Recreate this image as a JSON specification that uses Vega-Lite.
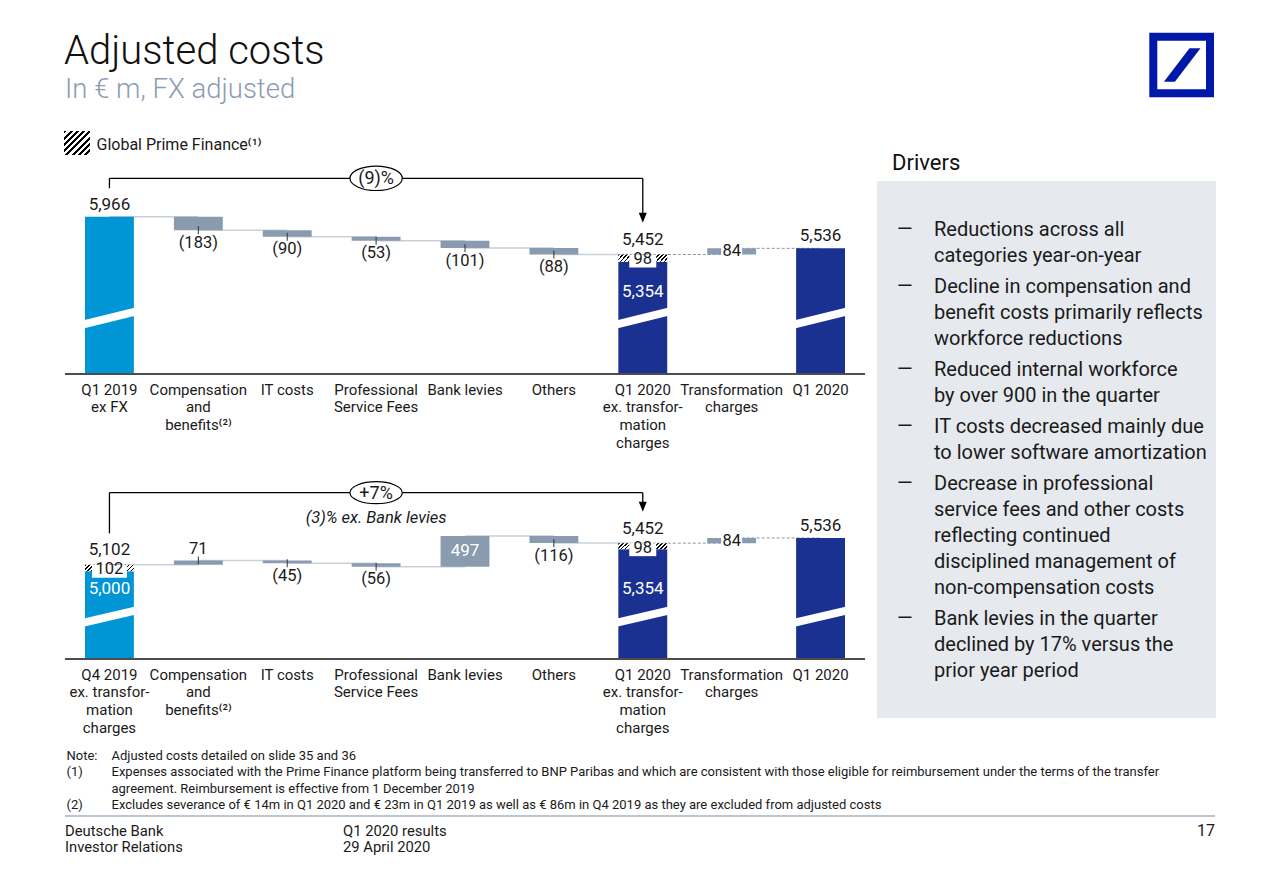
{
  "$schema": "https://vega.github.io/schema/vega-lite/v6.json",
  "width": 1280,
  "height": 886,
  "autosize": {"type": "fit", "contains": "padding"},
  "padding": 0,
  "background": "white",
  "config": {"view": {"stroke": null}, "font": "Roboto", "text": {"font": "Roboto", "color": "#1a1a1a"}},
  "datasets": {
    "topBars": [
      {"step": 1, "cat": "Q1 2019\nex FX", "part": "total", "period": "prior", "value": 5966, "hi": 5966, "next": "Compensation\nand\nbenefits⁽²⁾", "level": 5966, "cmpTo": "Q1 2020\nex. transfor-\nmation\ncharges", "cmpMid": "Professional\nService Fees", "cmpLabel": "(9)%"},
      {"step": 2, "cat": "Compensation\nand\nbenefits⁽²⁾", "part": "dec", "value": -183, "lo": 5783, "hi": 5966, "next": "IT costs", "level": 5783},
      {"step": 3, "cat": "IT costs", "part": "dec", "value": -90, "lo": 5693, "hi": 5783, "next": "Professional\nService Fees", "level": 5693},
      {"step": 4, "cat": "Professional\nService Fees", "part": "dec", "value": -53, "lo": 5640, "hi": 5693, "next": "Bank levies", "level": 5640},
      {"step": 5, "cat": "Bank levies", "part": "dec", "value": -101, "lo": 5539, "hi": 5640, "next": "Others", "level": 5539},
      {"step": 6, "cat": "Others", "part": "dec", "value": -88, "lo": 5451, "hi": 5539, "next": "Q1 2020\nex. transfor-\nmation\ncharges", "level": 5451},
      {"step": 7, "cat": "Q1 2020\nex. transfor-\nmation\ncharges", "part": "core", "period": "current", "value": 5354, "hi": 5354},
      {"step": 7, "cat": "Q1 2020\nex. transfor-\nmation\ncharges", "part": "gpf", "value": 98, "lo": 5354, "hi": 5452, "next": "Transformation\ncharges", "level": 5452},
      {"step": 8, "cat": "Transformation\ncharges", "part": "inc", "value": 84, "lo": 5452, "hi": 5536, "next": "Q1 2020", "level": 5536},
      {"step": 9, "cat": "Q1 2020", "part": "total", "period": "current", "value": 5536, "hi": 5536}
    ],
    "botBars": [
      {"step": 1, "cat": "Q4 2019\nex. transfor-\nmation\ncharges", "part": "core", "period": "prior", "value": 5000, "hi": 5000, "cmpTo": "Q1 2020\nex. transfor-\nmation\ncharges", "cmpMid": "Professional\nService Fees", "cmpLabel": "+7%", "cmpNote": "(3)% ex. Bank levies"},
      {"step": 1, "cat": "Q4 2019\nex. transfor-\nmation\ncharges", "part": "gpf", "value": 102, "lo": 5000, "hi": 5102, "next": "Compensation\nand\nbenefits⁽²⁾", "level": 5102},
      {"step": 2, "cat": "Compensation\nand\nbenefits⁽²⁾", "part": "inc", "value": 71, "lo": 5102, "hi": 5173, "next": "IT costs", "level": 5173},
      {"step": 3, "cat": "IT costs", "part": "dec", "value": -45, "lo": 5128, "hi": 5173, "next": "Professional\nService Fees", "level": 5128},
      {"step": 4, "cat": "Professional\nService Fees", "part": "dec", "value": -56, "lo": 5072, "hi": 5128, "next": "Bank levies", "level": 5072},
      {"step": 5, "cat": "Bank levies", "part": "inc", "value": 497, "lo": 5072, "hi": 5569, "next": "Others", "level": 5569},
      {"step": 6, "cat": "Others", "part": "dec", "value": -116, "lo": 5453, "hi": 5569, "next": "Q1 2020\nex. transfor-\nmation\ncharges", "level": 5453},
      {"step": 7, "cat": "Q1 2020\nex. transfor-\nmation\ncharges", "part": "core", "period": "current", "value": 5354, "hi": 5354},
      {"step": 7, "cat": "Q1 2020\nex. transfor-\nmation\ncharges", "part": "gpf", "value": 98, "lo": 5354, "hi": 5452, "next": "Transformation\ncharges", "level": 5452},
      {"step": 8, "cat": "Transformation\ncharges", "part": "inc", "value": 84, "lo": 5452, "hi": 5536, "next": "Q1 2020", "level": 5536},
      {"step": 9, "cat": "Q1 2020", "part": "total", "period": "current", "value": 5536, "hi": 5536}
    ],
    "drivers": [
      {"bullet": 1, "line": 1, "text": "Reductions across all"},
      {"bullet": 1, "line": 2, "text": "categories year-on-year"},
      {"bullet": 2, "line": 3, "text": "Decline in compensation and"},
      {"bullet": 2, "line": 4, "text": "benefit costs primarily reflects"},
      {"bullet": 2, "line": 5, "text": "workforce reductions"},
      {"bullet": 3, "line": 6, "text": "Reduced internal workforce"},
      {"bullet": 3, "line": 7, "text": "by over 900 in the quarter"},
      {"bullet": 4, "line": 8, "text": "IT costs decreased mainly due"},
      {"bullet": 4, "line": 9, "text": "to lower software amortization"},
      {"bullet": 5, "line": 10, "text": "Decrease in professional"},
      {"bullet": 5, "line": 11, "text": "service fees and other costs"},
      {"bullet": 5, "line": 12, "text": "reflecting continued"},
      {"bullet": 5, "line": 13, "text": "disciplined management of"},
      {"bullet": 5, "line": 14, "text": "non-compensation costs"},
      {"bullet": 6, "line": 15, "text": "Bank levies in the quarter"},
      {"bullet": 6, "line": 16, "text": "declined by 17% versus the"},
      {"bullet": 6, "line": 17, "text": "prior year period"}
    ],
    "notes": [
      {"line": 1, "marker": "Note:", "text": "Adjusted costs detailed on slide 35 and 36"},
      {"line": 2, "marker": "(1)", "text": "Expenses associated with the Prime Finance platform being transferred to BNP Paribas and which are consistent with those eligible for reimbursement under the terms of the transfer"},
      {"line": 3, "marker": "", "text": "agreement. Reimbursement is effective from 1 December 2019"},
      {"line": 4, "marker": "(2)", "text": "Excludes severance of € 14m in Q1 2020 and € 23m in Q1 2019 as well as € 86m in Q4 2019 as they are excluded from adjusted costs"}
    ],
    "footer": [
      {"col": "A", "line": 1, "text": "Deutsche Bank"},
      {"col": "A", "line": 2, "text": "Investor Relations"},
      {"col": "B", "line": 1, "text": "Q1 2020 results"},
      {"col": "B", "line": 2, "text": "29 April 2020"}
    ]
  },
  "resolve": {"scale": {"x": "independent", "y": "independent"}},
  "layer": [
    {
      "data": {"values": [{}]},
      "layer": [
        {"mark": {"type": "rect", "color": "#e6e9ee"}, "encoding": {"x": {"datum": 877, "type": "quantitative", "axis": null, "scale": {"domain": [0, 1280], "range": [0, 1280], "nice": false, "zero": false}}, "x2": {"datum": 1216}, "y": {"datum": 181, "type": "quantitative", "axis": null, "scale": {"domain": [0, 886], "range": [0, 886], "nice": false, "zero": false}}, "y2": {"datum": 718}}},
        {"mark": {"type": "rect", "fillOpacity": 0, "stroke": "#0018a8", "strokeWidth": 8}, "encoding": {"x": {"datum": 1153.3, "type": "quantitative", "axis": null}, "x2": {"datum": 1210}, "y": {"datum": 36.7, "type": "quantitative", "axis": null}, "y2": {"datum": 93.3}}},
        {"mark": {"type": "point", "filled": true, "color": "#0018a8", "opacity": 1, "strokeWidth": 0, "shape": "M0.406,-0.928L1.017,-0.928L-0.406,0.928L-1.017,0.928Z", "size": 1296}, "encoding": {"x": {"datum": 1182.2, "type": "quantitative", "axis": null}, "y": {"datum": 65, "type": "quantitative", "axis": null}}},
        {"mark": {"type": "rect", "fill": {"gradient": "linear", "x1": 0, "y1": 0, "x2": 1.038, "y2": 0.958, "stops": [
          {"offset": 0, "color": "#000"}, {"offset": 0.06, "color": "#000"}, {"offset": 0.06, "color": "#fff"}, {"offset": 0.125, "color": "#fff"},
          {"offset": 0.125, "color": "#000"}, {"offset": 0.185, "color": "#000"}, {"offset": 0.185, "color": "#fff"}, {"offset": 0.25, "color": "#fff"},
          {"offset": 0.25, "color": "#000"}, {"offset": 0.31, "color": "#000"}, {"offset": 0.31, "color": "#fff"}, {"offset": 0.375, "color": "#fff"},
          {"offset": 0.375, "color": "#000"}, {"offset": 0.435, "color": "#000"}, {"offset": 0.435, "color": "#fff"}, {"offset": 0.5, "color": "#fff"},
          {"offset": 0.5, "color": "#000"}, {"offset": 0.56, "color": "#000"}, {"offset": 0.56, "color": "#fff"}, {"offset": 0.625, "color": "#fff"},
          {"offset": 0.625, "color": "#000"}, {"offset": 0.685, "color": "#000"}, {"offset": 0.685, "color": "#fff"}, {"offset": 0.75, "color": "#fff"},
          {"offset": 0.75, "color": "#000"}, {"offset": 0.81, "color": "#000"}, {"offset": 0.81, "color": "#fff"}, {"offset": 0.875, "color": "#fff"},
          {"offset": 0.875, "color": "#000"}, {"offset": 0.935, "color": "#000"}, {"offset": 0.935, "color": "#fff"}, {"offset": 1, "color": "#fff"}]}},
          "encoding": {"x": {"datum": 64, "type": "quantitative", "axis": null}, "x2": {"datum": 90}, "y": {"datum": 131, "type": "quantitative", "axis": null}, "y2": {"datum": 155}}},
        {"mark": {"type": "rule", "color": "#a5b3c7", "strokeWidth": 1.5}, "encoding": {"x": {"datum": 65, "type": "quantitative", "axis": null}, "x2": {"datum": 1215}, "y": {"datum": 816, "type": "quantitative", "axis": null}}},
        {"mark": {"type": "text", "text": "Adjusted costs", "align": "left", "baseline": "alphabetic", "fontSize": 40, "fontWeight": 300, "color": "#111111"}, "encoding": {"x": {"datum": 64, "type": "quantitative", "axis": null}, "y": {"datum": 63.5, "type": "quantitative", "axis": null}}},
        {"mark": {"type": "text", "text": "In € m, FX adjusted", "align": "left", "baseline": "alphabetic", "fontSize": 27.5, "fontWeight": 300, "color": "#8c9bb4"}, "encoding": {"x": {"datum": 65, "type": "quantitative", "axis": null}, "y": {"datum": 98, "type": "quantitative", "axis": null}}},
        {"mark": {"type": "text", "text": "Global Prime Finance⁽¹⁾", "align": "left", "baseline": "alphabetic", "fontSize": 16, "color": "#1a1a1a"}, "encoding": {"x": {"datum": 96.5, "type": "quantitative", "axis": null}, "y": {"datum": 150, "type": "quantitative", "axis": null}}},
        {"mark": {"type": "text", "text": "Drivers", "align": "left", "baseline": "alphabetic", "fontSize": 22, "color": "#111111"}, "encoding": {"x": {"datum": 892, "type": "quantitative", "axis": null}, "y": {"datum": 170, "type": "quantitative", "axis": null}}},
        {"mark": {"type": "text", "text": "17", "align": "right", "baseline": "alphabetic", "fontSize": 16, "color": "#1a1a1a"}, "encoding": {"x": {"datum": 1215, "type": "quantitative", "axis": null}, "y": {"datum": 836, "type": "quantitative", "axis": null}}}
      ]
    },
    {
      "data": {"name": "drivers"},
      "encoding": {
        "y": {"field": "line", "type": "ordinal", "axis": null, "scale": {"type": "band", "domain": [1, 2, 3, 4, 5, 6, 7, 8, 9, 10, 11, 12, 13, 14, 15, 16, 17], "range": [229.6, 671.6], "paddingInner": 0, "paddingOuter": 0}},
        "yOffset": {"field": "bullet", "type": "ordinal", "scale": {"type": "point", "domain": [1, 2, 3, 4, 5, 6], "range": [0, 25], "padding": 0}}
      },
      "layer": [
        {"mark": {"type": "text", "align": "left", "baseline": "middle", "fontSize": 20}, "encoding": {"x": {"datum": "body", "type": "nominal", "axis": null, "scale": {"type": "point", "domain": ["dash", "body"], "range": [897, 934], "padding": 0}}, "text": {"field": "text", "type": "nominal"}}},
        {"transform": [{"aggregate": [{"op": "min", "field": "line", "as": "line"}], "groupby": ["bullet"]}], "mark": {"type": "text", "align": "left", "baseline": "middle", "fontSize": 20, "text": "—"}, "encoding": {"x": {"datum": "dash", "type": "nominal", "axis": null}}}
      ]
    },
    {
      "data": {"name": "notes"},
      "encoding": {"y": {"field": "line", "type": "ordinal", "axis": null, "scale": {"type": "point", "domain": [1, 2, 3, 4], "range": [755.8, 805.3], "padding": 0}}},
      "layer": [
        {"transform": [{"filter": "datum.marker !== ''"}], "mark": {"type": "text", "align": "left", "baseline": "middle", "fontSize": 13}, "encoding": {"x": {"datum": "marker", "type": "nominal", "axis": null, "scale": {"type": "point", "domain": ["marker", "body"], "range": [66.5, 111.5], "padding": 0}}, "text": {"field": "marker", "type": "nominal"}}},
        {"mark": {"type": "text", "align": "left", "baseline": "middle", "fontSize": 13}, "encoding": {"x": {"datum": "body", "type": "nominal", "axis": null}, "text": {"field": "text", "type": "nominal"}}}
      ]
    },
    {
      "data": {"name": "footer"},
      "mark": {"type": "text", "align": "left", "baseline": "middle", "fontSize": 14.8},
      "encoding": {
        "x": {"field": "col", "type": "nominal", "axis": null, "scale": {"type": "point", "domain": ["A", "B"], "range": [65, 343], "padding": 0}},
        "y": {"field": "line", "type": "ordinal", "axis": null, "scale": {"type": "point", "domain": [1, 2], "range": [831.7, 848.3], "padding": 0}},
        "text": {"field": "text", "type": "nominal"}
      }
    },
    {
      "data": {"name": "topBars"},
      "encoding": {
        "x": {"field": "cat", "type": "nominal", "axis": null, "scale": {"type": "band", "domain": ["Q1 2019\nex FX", "Compensation\nand\nbenefits⁽²⁾", "IT costs", "Professional\nService Fees", "Bank levies", "Others", "Q1 2020\nex. transfor-\nmation\ncharges", "Transformation\ncharges", "Q1 2020"], "range": [65, 865], "paddingInner": 0.45, "paddingOuter": 0.225}},
        "y": {"field": "hi", "type": "quantitative", "axis": null, "scale": {"domain": [3826, 6738], "range": [374, 160], "zero": false, "nice": false}}
      },
      "layer": [
        {"transform": [{"filter": "isValid(datum.next)"}], "mark": {"type": "rule"}, "encoding": {"x2": {"field": "next"}, "y": {"field": "level", "type": "quantitative", "axis": null}, "color": {"condition": {"test": "datum.step >= 7", "value": "#8c96a3"}, "value": "#c9d0da"}, "strokeWidth": {"condition": {"test": "datum.step >= 7", "value": 1}, "value": 1.5}, "strokeDash": {"condition": {"test": "datum.step >= 7", "value": [3, 2]}, "value": [1, 0]}}},
        {"transform": [{"filter": "datum.part === 'total' || datum.part === 'core'"}], "mark": {"type": "bar"}, "encoding": {"y2": {"datum": 3826}, "color": {"field": "period", "type": "nominal", "legend": null, "scale": {"domain": ["prior", "current"], "range": ["#0096d6", "#1b3192"]}}}},
        {"transform": [{"filter": "datum.part === 'dec' || datum.part === 'inc'"}], "mark": {"type": "bar", "color": "#8a9bb0"}, "encoding": {"y2": {"field": "lo"}}},
        {"transform": [{"filter": "datum.part === 'gpf'"}], "mark": {"type": "bar", "fill": {"gradient": "linear", "x1": 0, "y1": 0, "x2": 1.12, "y2": 0.155, "stops": [
          {"offset": 0, "color": "#000"}, {"offset": 0.03, "color": "#000"}, {"offset": 0.03, "color": "#fff"}, {"offset": 0.0714, "color": "#fff"},
          {"offset": 0.0714, "color": "#000"}, {"offset": 0.1014, "color": "#000"}, {"offset": 0.1014, "color": "#fff"}, {"offset": 0.1429, "color": "#fff"},
          {"offset": 0.1429, "color": "#000"}, {"offset": 0.1729, "color": "#000"}, {"offset": 0.1729, "color": "#fff"}, {"offset": 0.2143, "color": "#fff"},
          {"offset": 0.2143, "color": "#000"}, {"offset": 0.2443, "color": "#000"}, {"offset": 0.2443, "color": "#fff"}, {"offset": 0.2857, "color": "#fff"},
          {"offset": 0.2857, "color": "#000"}, {"offset": 0.3157, "color": "#000"}, {"offset": 0.3157, "color": "#fff"}, {"offset": 0.3571, "color": "#fff"},
          {"offset": 0.3571, "color": "#000"}, {"offset": 0.3871, "color": "#000"}, {"offset": 0.3871, "color": "#fff"}, {"offset": 0.4286, "color": "#fff"},
          {"offset": 0.4286, "color": "#000"}, {"offset": 0.4586, "color": "#000"}, {"offset": 0.4586, "color": "#fff"}, {"offset": 0.5, "color": "#fff"},
          {"offset": 0.5, "color": "#000"}, {"offset": 0.53, "color": "#000"}, {"offset": 0.53, "color": "#fff"}, {"offset": 0.5714, "color": "#fff"},
          {"offset": 0.5714, "color": "#000"}, {"offset": 0.6014, "color": "#000"}, {"offset": 0.6014, "color": "#fff"}, {"offset": 0.6429, "color": "#fff"},
          {"offset": 0.6429, "color": "#000"}, {"offset": 0.6729, "color": "#000"}, {"offset": 0.6729, "color": "#fff"}, {"offset": 0.7143, "color": "#fff"},
          {"offset": 0.7143, "color": "#000"}, {"offset": 0.7443, "color": "#000"}, {"offset": 0.7443, "color": "#fff"}, {"offset": 0.7857, "color": "#fff"},
          {"offset": 0.7857, "color": "#000"}, {"offset": 0.8157, "color": "#000"}, {"offset": 0.8157, "color": "#fff"}, {"offset": 0.8571, "color": "#fff"},
          {"offset": 0.8571, "color": "#000"}, {"offset": 0.8871, "color": "#000"}, {"offset": 0.8871, "color": "#fff"}, {"offset": 0.9286, "color": "#fff"},
          {"offset": 0.9286, "color": "#000"}, {"offset": 0.9586, "color": "#000"}, {"offset": 0.9586, "color": "#fff"}, {"offset": 1, "color": "#fff"}]}},
          "encoding": {"y2": {"field": "lo"}}},
        {"transform": [{"filter": "datum.part === 'total' || datum.part === 'core'"}], "mark": {"type": "rule", "color": "#ffffff", "strokeWidth": 8, "strokeCap": "butt"}, "encoding": {"x": {"field": "cat", "type": "nominal", "axis": null, "bandPosition": -0.05}, "x2": {"field": "cat", "bandPosition": 1.05}, "y": {"datum": 4499, "axis": null}, "y2": {"datum": 4677}}},
        {"transform": [{"filter": "datum.step === 9"}], "mark": {"type": "rule", "color": "#4d4d4d", "strokeWidth": 2}, "encoding": {"x": {"datum": "Q1 2019\nex FX", "type": "nominal", "axis": null, "bandPosition": -0.41}, "x2": {"datum": "Q1 2020", "bandPosition": 1.41}, "y": {"datum": 3826, "axis": null}}},
        {"transform": [{"filter": "datum.part === 'dec'"}], "mark": {"type": "rule", "color": "#333333", "strokeWidth": 1, "yOffset": -4, "y2Offset": 4}, "encoding": {"y": {"field": "lo", "type": "quantitative", "axis": null}, "y2": {"field": "lo"}}},
        {"transform": [{"filter": "datum.part === 'gpf'"}], "mark": {"type": "point", "filled": true, "color": "#ffffff", "opacity": 1, "strokeWidth": 0, "yOffset": 6.5}, "encoding": {"shape": {"condition": {"test": "datum.value >= 100", "value": "M-1,-0.37H1V0.37H-1Z"}, "value": "M-1,-0.48H1V0.48H-1Z"}, "size": {"condition": {"test": "datum.value >= 100", "value": 1225}, "value": 729}}},
        {"transform": [{"filter": "datum.step === 8"}], "mark": {"type": "point", "filled": true, "color": "#ffffff", "opacity": 1, "strokeWidth": 0, "shape": "M-1,-0.6H1V0.6H-1Z", "size": 441, "yOffset": 3}},
        {"transform": [{"filter": "datum.part === 'total'"}], "mark": {"type": "text", "baseline": "alphabetic", "dy": -7, "fontSize": 17}, "encoding": {"text": {"field": "value", "type": "quantitative", "format": ",.0f"}}},
        {"transform": [{"filter": "datum.part === 'gpf'"}], "mark": {"type": "text", "baseline": "alphabetic", "dy": -10, "fontSize": 17}, "encoding": {"text": {"field": "hi", "type": "quantitative", "format": ",.0f"}}},
        {"transform": [{"filter": "datum.part === 'gpf'"}], "mark": {"type": "text", "baseline": "middle", "dy": 4.5, "fontSize": 16.5}, "encoding": {"text": {"field": "value", "type": "quantitative", "format": ",.0f"}}},
        {"transform": [{"filter": "datum.part === 'core'"}], "mark": {"type": "text", "baseline": "middle", "fontSize": 17, "color": "#ffffff"}, "encoding": {"y": {"datum": 4946, "axis": null}, "text": {"field": "value", "type": "quantitative", "format": ",.0f"}}},
        {"transform": [{"filter": "datum.part === 'dec'"}], "mark": {"type": "text", "baseline": "alphabetic", "dy": 17.5, "fontSize": 16.5}, "encoding": {"y": {"field": "lo", "type": "quantitative", "axis": null}, "text": {"field": "value", "type": "quantitative", "format": "(,.0f"}}},
        {"transform": [{"filter": "datum.step === 8"}], "mark": {"type": "text", "baseline": "middle", "dy": 3, "fontSize": 16.5}, "encoding": {"text": {"field": "value", "type": "quantitative", "format": ",.0f"}}},
        {"transform": [{"filter": "datum.part !== 'gpf'"}], "mark": {"type": "text", "baseline": "alphabetic", "dy": 20.5, "fontSize": 15, "lineBreak": "\n", "lineHeight": 17.8}, "encoding": {"y": {"datum": 3826, "axis": null}, "text": {"field": "cat", "type": "nominal"}}},
        {"transform": [{"filter": "isValid(datum.cmpLabel)"}], "mark": {"type": "rule", "color": "#000000", "strokeWidth": 1.3}, "encoding": {"y": {"datum": 6489, "axis": null}, "y2": {"datum": 6353}}},
        {"transform": [{"filter": "isValid(datum.cmpLabel)"}], "mark": {"type": "rule", "color": "#000000", "strokeWidth": 1.3}, "encoding": {"x2": {"field": "cmpTo"}, "y": {"datum": 6489, "axis": null}}},
        {"transform": [{"filter": "isValid(datum.cmpLabel)"}], "mark": {"type": "rule", "color": "#000000", "strokeWidth": 1.3}, "encoding": {"x": {"field": "cmpTo", "type": "nominal", "axis": null}, "y": {"datum": 6489, "axis": null}, "y2": {"datum": 5990}}},
        {"transform": [{"filter": "isValid(datum.cmpLabel)"}], "mark": {"type": "point", "filled": true, "color": "#000000", "opacity": 1, "strokeWidth": 0, "shape": "M-0.8,-1L0.8,-1L0,1Z", "size": 100}, "encoding": {"x": {"field": "cmpTo", "type": "nominal", "axis": null}, "y": {"datum": 5951, "axis": null}}},
        {"transform": [{"filter": "isValid(datum.cmpLabel)"}], "mark": {"type": "point", "filled": true, "fill": "#ffffff", "stroke": "#000000", "strokeWidth": 1.2, "opacity": 1, "shape": "M-1,0A1,0.467,0,1,1,1,0A1,0.467,0,1,1,-1,0Z", "size": 2735}, "encoding": {"x": {"field": "cmpMid", "type": "nominal", "axis": null}, "y": {"datum": 6489, "axis": null}}},
        {"transform": [{"filter": "isValid(datum.cmpLabel)"}], "mark": {"type": "text", "baseline": "middle", "fontSize": 18, "dy": 1}, "encoding": {"x": {"field": "cmpMid", "type": "nominal", "axis": null}, "y": {"datum": 6489, "axis": null}, "text": {"field": "cmpLabel", "type": "nominal"}}}
      ]
    },
    {
      "data": {"name": "botBars"},
      "encoding": {
        "x": {"field": "cat", "type": "nominal", "axis": null, "scale": {"type": "band", "domain": ["Q4 2019\nex. transfor-\nmation\ncharges", "Compensation\nand\nbenefits⁽²⁾", "IT costs", "Professional\nService Fees", "Bank levies", "Others", "Q1 2020\nex. transfor-\nmation\ncharges", "Transformation\ncharges", "Q1 2020"], "range": [65, 865], "paddingInner": 0.45, "paddingOuter": 0.225}},
        "y": {"field": "hi", "type": "quantitative", "axis": null, "scale": {"domain": [3584, 6632], "range": [659, 470], "zero": false, "nice": false}}
      },
      "layer": [
        {"transform": [{"filter": "isValid(datum.next)"}], "mark": {"type": "rule"}, "encoding": {"x2": {"field": "next"}, "y": {"field": "level", "type": "quantitative", "axis": null}, "color": {"condition": {"test": "datum.step >= 7", "value": "#8c96a3"}, "value": "#c9d0da"}, "strokeWidth": {"condition": {"test": "datum.step >= 7", "value": 1}, "value": 1.5}, "strokeDash": {"condition": {"test": "datum.step >= 7", "value": [3, 2]}, "value": [1, 0]}}},
        {"transform": [{"filter": "datum.part === 'total' || datum.part === 'core'"}], "mark": {"type": "bar"}, "encoding": {"y2": {"datum": 3584}, "color": {"field": "period", "type": "nominal", "legend": null, "scale": {"domain": ["prior", "current"], "range": ["#0096d6", "#1b3192"]}}}},
        {"transform": [{"filter": "datum.part === 'dec' || datum.part === 'inc'"}], "mark": {"type": "bar", "color": "#8a9bb0"}, "encoding": {"y2": {"field": "lo"}}},
        {"transform": [{"filter": "datum.part === 'gpf'"}], "mark": {"type": "bar", "fill": {"gradient": "linear", "x1": 0, "y1": 0, "x2": 1.11, "y2": 0.14, "stops": [
          {"offset": 0, "color": "#000"}, {"offset": 0.03, "color": "#000"}, {"offset": 0.03, "color": "#fff"}, {"offset": 0.0714, "color": "#fff"},
          {"offset": 0.0714, "color": "#000"}, {"offset": 0.1014, "color": "#000"}, {"offset": 0.1014, "color": "#fff"}, {"offset": 0.1429, "color": "#fff"},
          {"offset": 0.1429, "color": "#000"}, {"offset": 0.1729, "color": "#000"}, {"offset": 0.1729, "color": "#fff"}, {"offset": 0.2143, "color": "#fff"},
          {"offset": 0.2143, "color": "#000"}, {"offset": 0.2443, "color": "#000"}, {"offset": 0.2443, "color": "#fff"}, {"offset": 0.2857, "color": "#fff"},
          {"offset": 0.2857, "color": "#000"}, {"offset": 0.3157, "color": "#000"}, {"offset": 0.3157, "color": "#fff"}, {"offset": 0.3571, "color": "#fff"},
          {"offset": 0.3571, "color": "#000"}, {"offset": 0.3871, "color": "#000"}, {"offset": 0.3871, "color": "#fff"}, {"offset": 0.4286, "color": "#fff"},
          {"offset": 0.4286, "color": "#000"}, {"offset": 0.4586, "color": "#000"}, {"offset": 0.4586, "color": "#fff"}, {"offset": 0.5, "color": "#fff"},
          {"offset": 0.5, "color": "#000"}, {"offset": 0.53, "color": "#000"}, {"offset": 0.53, "color": "#fff"}, {"offset": 0.5714, "color": "#fff"},
          {"offset": 0.5714, "color": "#000"}, {"offset": 0.6014, "color": "#000"}, {"offset": 0.6014, "color": "#fff"}, {"offset": 0.6429, "color": "#fff"},
          {"offset": 0.6429, "color": "#000"}, {"offset": 0.6729, "color": "#000"}, {"offset": 0.6729, "color": "#fff"}, {"offset": 0.7143, "color": "#fff"},
          {"offset": 0.7143, "color": "#000"}, {"offset": 0.7443, "color": "#000"}, {"offset": 0.7443, "color": "#fff"}, {"offset": 0.7857, "color": "#fff"},
          {"offset": 0.7857, "color": "#000"}, {"offset": 0.8157, "color": "#000"}, {"offset": 0.8157, "color": "#fff"}, {"offset": 0.8571, "color": "#fff"},
          {"offset": 0.8571, "color": "#000"}, {"offset": 0.8871, "color": "#000"}, {"offset": 0.8871, "color": "#fff"}, {"offset": 0.9286, "color": "#fff"},
          {"offset": 0.9286, "color": "#000"}, {"offset": 0.9586, "color": "#000"}, {"offset": 0.9586, "color": "#fff"}, {"offset": 1, "color": "#fff"}]}},
          "encoding": {"y2": {"field": "lo"}}},
        {"transform": [{"filter": "datum.part === 'total' || datum.part === 'core'"}], "mark": {"type": "rule", "color": "#ffffff", "strokeWidth": 8, "strokeCap": "butt"}, "encoding": {"x": {"field": "cat", "type": "nominal", "axis": null, "bandPosition": -0.05}, "x2": {"field": "cat", "bandPosition": 1.05}, "y": {"datum": 4165, "axis": null}, "y2": {"datum": 4369}}},
        {"transform": [{"filter": "datum.step === 9"}], "mark": {"type": "rule", "color": "#4d4d4d", "strokeWidth": 2}, "encoding": {"x": {"datum": "Q4 2019\nex. transfor-\nmation\ncharges", "type": "nominal", "axis": null, "bandPosition": -0.41}, "x2": {"datum": "Q1 2020", "bandPosition": 1.41}, "y": {"datum": 3584, "axis": null}}},
        {"transform": [{"filter": "datum.part === 'dec'"}], "mark": {"type": "rule", "color": "#333333", "strokeWidth": 1, "yOffset": -4, "y2Offset": 4}, "encoding": {"y": {"field": "lo", "type": "quantitative", "axis": null}, "y2": {"field": "lo"}}},
        {"transform": [{"filter": "datum.part === 'inc' && datum.value < 300 && datum.step !== 8"}], "mark": {"type": "rule", "color": "#333333", "strokeWidth": 1, "yOffset": -4, "y2Offset": 4}, "encoding": {"y": {"field": "hi", "type": "quantitative", "axis": null}, "y2": {"field": "hi"}}},
        {"transform": [{"filter": "datum.part === 'gpf'"}], "mark": {"type": "point", "filled": true, "color": "#ffffff", "opacity": 1, "strokeWidth": 0, "yOffset": 6.5}, "encoding": {"shape": {"condition": {"test": "datum.value >= 100", "value": "M-1,-0.37H1V0.37H-1Z"}, "value": "M-1,-0.48H1V0.48H-1Z"}, "size": {"condition": {"test": "datum.value >= 100", "value": 1225}, "value": 729}}},
        {"transform": [{"filter": "datum.step === 8"}], "mark": {"type": "point", "filled": true, "color": "#ffffff", "opacity": 1, "strokeWidth": 0, "shape": "M-1,-0.6H1V0.6H-1Z", "size": 441, "yOffset": 3}},
        {"transform": [{"filter": "datum.part === 'total'"}], "mark": {"type": "text", "baseline": "alphabetic", "dy": -7, "fontSize": 17}, "encoding": {"text": {"field": "value", "type": "quantitative", "format": ",.0f"}}},
        {"transform": [{"filter": "datum.part === 'gpf'"}], "mark": {"type": "text", "baseline": "alphabetic", "dy": -9.5, "fontSize": 17}, "encoding": {"text": {"field": "hi", "type": "quantitative", "format": ",.0f"}}},
        {"transform": [{"filter": "datum.part === 'gpf'"}], "mark": {"type": "text", "baseline": "middle", "dy": 4.5, "fontSize": 16.5}, "encoding": {"text": {"field": "value", "type": "quantitative", "format": ",.0f"}}},
        {"transform": [{"filter": "datum.part === 'core'"}], "mark": {"type": "text", "baseline": "middle", "fontSize": 17, "color": "#ffffff"}, "encoding": {"y": {"datum": 4713, "axis": null}, "text": {"field": "value", "type": "quantitative", "format": ",.0f"}}},
        {"transform": [{"filter": "datum.part === 'dec'"}], "mark": {"type": "text", "baseline": "alphabetic", "dy": 17.5, "fontSize": 16.5}, "encoding": {"y": {"field": "lo", "type": "quantitative", "axis": null}, "text": {"field": "value", "type": "quantitative", "format": "(,.0f"}}},
        {"transform": [{"filter": "datum.part === 'inc' && datum.value < 300 && datum.step !== 8"}], "mark": {"type": "text", "baseline": "alphabetic", "dy": -6, "fontSize": 16.5}, "encoding": {"text": {"field": "value", "type": "quantitative", "format": ",.0f"}}},
        {"transform": [{"filter": "datum.part === 'inc' && datum.value >= 300"}], "mark": {"type": "text", "baseline": "middle", "dy": 15.5, "fontSize": 17, "color": "#ffffff"}, "encoding": {"text": {"field": "value", "type": "quantitative", "format": ",.0f"}}},
        {"transform": [{"filter": "datum.step === 8"}], "mark": {"type": "text", "baseline": "middle", "dy": 3, "fontSize": 16.5}, "encoding": {"text": {"field": "value", "type": "quantitative", "format": ",.0f"}}},
        {"transform": [{"filter": "datum.part !== 'gpf'"}], "mark": {"type": "text", "baseline": "alphabetic", "dy": 20.5, "fontSize": 15, "lineBreak": "\n", "lineHeight": 17.8}, "encoding": {"y": {"datum": 3584, "axis": null}, "text": {"field": "cat", "type": "nominal"}}},
        {"transform": [{"filter": "isValid(datum.cmpLabel)"}], "mark": {"type": "rule", "color": "#000000", "strokeWidth": 1.3}, "encoding": {"y": {"datum": 6266, "axis": null}, "y2": {"datum": 5611}}},
        {"transform": [{"filter": "isValid(datum.cmpLabel)"}], "mark": {"type": "rule", "color": "#000000", "strokeWidth": 1.3}, "encoding": {"x2": {"field": "cmpTo"}, "y": {"datum": 6266, "axis": null}}},
        {"transform": [{"filter": "isValid(datum.cmpLabel)"}], "mark": {"type": "rule", "color": "#000000", "strokeWidth": 1.3}, "encoding": {"x": {"field": "cmpTo", "type": "nominal", "axis": null}, "y": {"datum": 6266, "axis": null}, "y2": {"datum": 6110}}},
        {"transform": [{"filter": "isValid(datum.cmpLabel)"}], "mark": {"type": "point", "filled": true, "color": "#000000", "opacity": 1, "strokeWidth": 0, "shape": "M-0.8,-1L0.8,-1L0,1Z", "size": 100}, "encoding": {"x": {"field": "cmpTo", "type": "nominal", "axis": null}, "y": {"datum": 6040, "axis": null}}},
        {"transform": [{"filter": "isValid(datum.cmpLabel)"}], "mark": {"type": "point", "filled": true, "fill": "#ffffff", "stroke": "#000000", "strokeWidth": 1.2, "opacity": 1, "shape": "M-1,0A1,0.42,0,1,1,1,0A1,0.42,0,1,1,-1,0Z", "size": 2735}, "encoding": {"x": {"field": "cmpMid", "type": "nominal", "axis": null}, "y": {"datum": 6266, "axis": null}}},
        {"transform": [{"filter": "isValid(datum.cmpLabel)"}], "mark": {"type": "text", "baseline": "middle", "fontSize": 18, "dy": 1}, "encoding": {"x": {"field": "cmpMid", "type": "nominal", "axis": null}, "y": {"datum": 6266, "axis": null}, "text": {"field": "cmpLabel", "type": "nominal"}}},
        {"transform": [{"filter": "isValid(datum.cmpNote)"}], "mark": {"type": "text", "baseline": "middle", "fontSize": 16.5, "fontStyle": "italic"}, "encoding": {"x": {"field": "cmpMid", "type": "nominal", "axis": null}, "y": {"datum": 5863, "axis": null}, "text": {"field": "cmpNote", "type": "nominal"}}}
      ]
    }
  ]
}
